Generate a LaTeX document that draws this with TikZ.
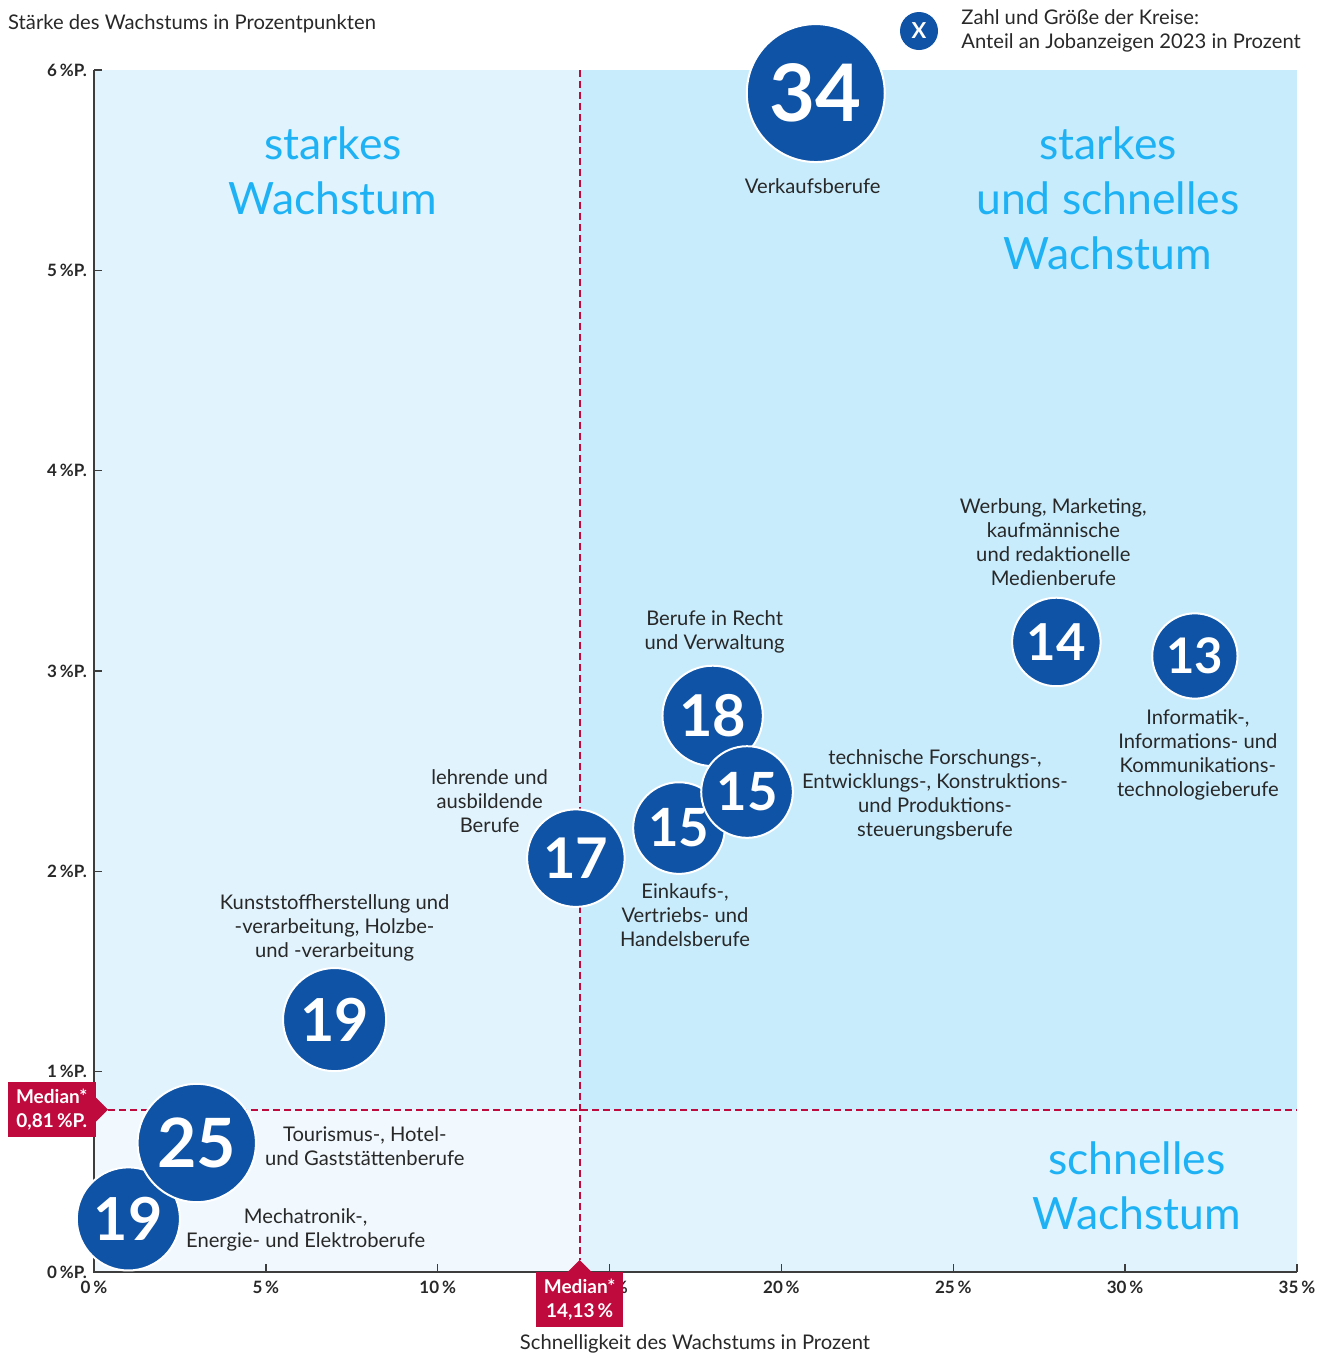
\documentclass[tikz,border=0pt]{standalone}
\usepackage{fontspec}
\setmainfont{Lato}
\usetikzlibrary{positioning}

\definecolor{jobblue}{RGB}{14,83,165}
\definecolor{bglight}{RGB}{225,243,253}
\definecolor{bgdark}{RGB}{200,236,252}
\definecolor{bgpale}{RGB}{241,249,254}
\definecolor{quadblue}{RGB}{30,178,245}
\definecolor{medianred}{RGB}{190,10,60}
\definecolor{textgray}{RGB}{40,40,40}

\newcommand{\bubblefont}[1]{\pgfmathsetmacro{\bfsize}{13.6*sqrt(#1)}\fontsize{\bfsize}{\bfsize}\selectfont\bfseries}

\tikzset{bubble/.style={circle, fill=jobblue, draw=white, line width=2pt, text=white, inner sep=0pt, minimum size={23.66*sqrt(#1)}, font=\bubblefont{#1}}}
\tikzset{medianline/.style={line width=1.8pt, color=medianred, dash pattern=on 7pt off 4pt}}
\tikzstyle{jobtext} = [align=center, inner sep=0pt, text=textgray, font=\fontsize{20.2}{24}\selectfont]
\tikzstyle{quadtext} = [align=center, inner sep=0pt, text=quadblue, font=\fontsize{44.5}{55}\selectfont]
\tikzstyle{ticklabel} = [inner sep=0pt, text=textgray, font=\fontsize{17}{18}\selectfont\bfseries]
\tikzstyle{axisline} = [line width=1.5pt, draw=textgray!90]
\tikzstyle{medianbox} = [fill=medianred, text=white, align=center, inner sep=0pt, minimum height=55pt, font=\fontsize{19}{24}\selectfont\bfseries]

\begin{document}
\begin{tikzpicture}[x=1pt,y=-1pt]
\useasboundingbox (0,0) rectangle (1329,1353);

\begin{scope}[shift={(94,1272)},x=34.37pt,y=200.33pt]
% quadrants
\fill[bglight] (0,0.81) rectangle (14.13,6);
\fill[bgdark] (14.13,0.81) rectangle (35,6);
\fill[bgpale] (0,0) rectangle (14.13,0.81);
\fill[bglight] (14.13,0) rectangle (35,0.81);

\coordinate (mtop) at (14.13,6);
\coordinate (mright) at (35,0.81);

% axes
\draw[axisline] (0,6) -- (0,0) -- (35,0);
\foreach \y in {1,...,6}
  \draw[axisline] (0,\y) -- ++(8pt,0);
\foreach \x in {5,10,...,35}
  \draw[axisline] (\x,0) -- ++(0,8pt);
\foreach \y in {0,...,6}
  \node[ticklabel, anchor=east, xshift=-7pt] at (0,\y) {\y\,\%P.};
\foreach \x in {0,5,...,35}
  \node[ticklabel, anchor=north, yshift=-9pt] at (\x,0) {\x\,\%};

% median
\node (medx) [medianbox, minimum width=87pt, anchor=north] at (14.13,0) {Median*\\14,13\,\%};
\node (medy) [medianbox, minimum width=88pt, anchor=east, xshift=2pt] at (0,0.81) {Median*\\0,81\,\%P.};
\fill[medianred] ([xshift=-12pt]medx.north) -- ([yshift=12pt]medx.north) -- ([xshift=12pt]medx.north) -- cycle;
\fill[medianred] ([yshift=12pt]medy.east) -- ([xshift=12pt]medy.east) -- ([yshift=-12pt]medy.east) -- cycle;
\draw[medianline] (mtop) -- ([yshift=12pt]medx.north);
\draw[medianline] ([xshift=12pt]medy.east) -- (mright);

% bubbles
\node (verkauf) [bubble=34] at (21,5.885) {34};
\node (werbung) [bubble=14] at (28,3.145) {14};
\node (informatik) [bubble=13] at (32.03,3.075) {13};
\node (recht) [bubble=18] at (18,2.776) {18};
\node (einkauf) [bubble=15] at (17.02,2.216) {15};
\node (technik) [bubble=15] at (19,2.396) {15};
\node (lehrende) [bubble=17] at (14.02,2.066) {17};
\node (kunststoff) [bubble=19] at (7,1.26) {19};
\node (mechatronik) [bubble=19] at (1,0.265) {19};
\node (tourismus) [bubble=25] at (2.99,0.644) {25};
\end{scope}

% labels
\node (verkauf-t) [jobtext, below=15pt of verkauf, xshift=-3pt] {Verkaufsberufe};
\node (werbung-t) [jobtext, above=11pt of werbung, xshift=-3pt] {Werbung, Marketing,\\kaufmännische\\und redaktionelle\\Medienberufe};
\node (informatik-t) [jobtext, below=10pt of informatik, xshift=3pt] {Informatik-,\\Informations- und\\Kommunikations-\\technologieberufe};
\node (recht-t) [jobtext, above=11pt of recht, xshift=2pt] {Berufe in Recht\\und Verwaltung};
\node (technik-t) [jobtext, right=8pt of technik, yshift=-3pt] {technische Forschungs-,\\Entwicklungs-, Konstruktions-\\und Produktions-\\steuerungsberufe};
\node (lehrende-t) [jobtext, left=-22pt of lehrende, yshift=57pt] {lehrende und\\ausbildende\\Berufe};
\node (einkauf-t) [jobtext, below=9pt of einkauf, xshift=6pt] {Einkaufs-,\\Vertriebs- und\\Handelsberufe};
\node (kunststoff-t) [jobtext, above=6pt of kunststoff] {Kunststoffherstellung und\\-verarbeitung, Holzbe-\\und -verarbeitung};
\node (tourismus-t) [jobtext, right=8pt of tourismus, yshift=-3pt] {Tourismus-, Hotel-\\und Gaststättenberufe};
\node (mechatronik-t) [jobtext, right=5pt of mechatronik, yshift=-11pt] {Mechatronik-,\\Energie- und Elektroberufe};

% quadrant titles
\node (q-stark) [quadtext] at (333,171) {starkes\\Wachstum};
\node (q-beide) [quadtext] at (1108,198) {starkes\\und schnelles\\Wachstum};
\node (q-schnell) [quadtext] at (1137,1186) {schnelles\\Wachstum};

% axis titles
\node (ytitle) [jobtext, anchor=west] at (8,24) {Stärke des Wachstums in Prozentpunkten};
\node (xtitle) [jobtext] at (695,1344) {Schnelligkeit des Wachstums in Prozent};

% legend
\node (legendx) [circle, fill=jobblue, inner sep=0pt, minimum size=38pt, text=white, font=\fontsize{22}{22}\selectfont\bfseries] at (919,31) {X};
\node (legend-t) [jobtext, align=left, right=23pt of legendx] {Zahl und Größe der Kreise:\\Anteil an Jobanzeigen 2023 in Prozent};
\end{tikzpicture}
\end{document}
